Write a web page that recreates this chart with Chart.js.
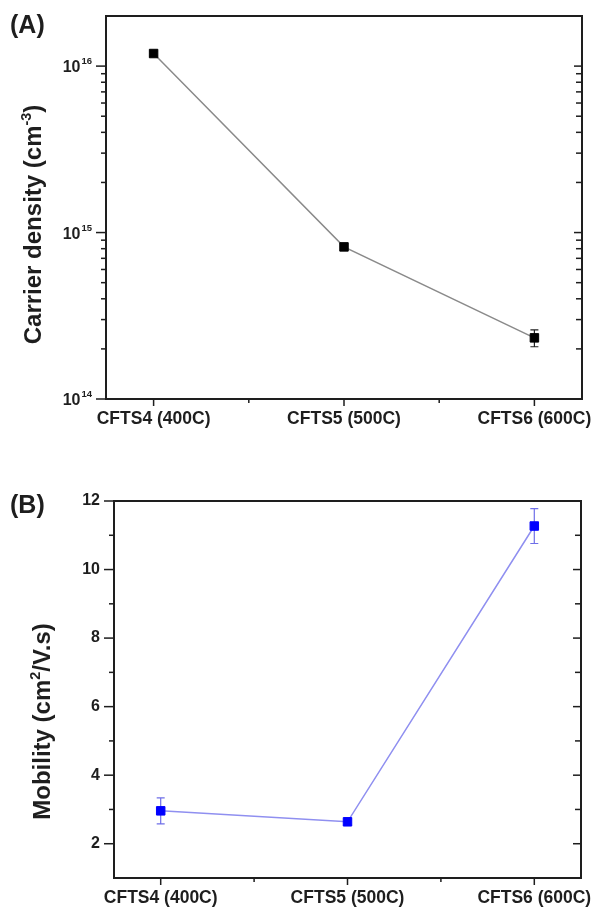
<!DOCTYPE html>
<html lang="en">
<head>
<meta charset="UTF-8">
<title>CFTS carrier density and mobility</title>
<style>
  body { margin: 0; background: #fff; }
  .panel { position: absolute; left: 0; width: 595px; }
  #panelA { top: 0; height: 440px; }
  #panelB { top: 455px; height: 455px; }
</style>
<script src="https://cdn.jsdelivr.net/npm/chart.js"></script>
</head>
<body>
<div class="panel" id="panelA"><canvas id="chartA" width="595" height="440"></canvas></div>
<div class="panel" id="panelB"><canvas id="chartB" width="595" height="455"></canvas></div>
<script>
const samples = ['CFTS4 (400C)', 'CFTS5 (500C)', 'CFTS6 (600C)'];
const carrierDensity = [1.19e16, 8.2e14, 2.33e14];
const carrierError = [0.04e16, 0.3e14, 0.27e14];
const mobility = [2.96, 2.64, 11.27];
const mobilityError = [0.38, 0.08, 0.51];
const densityTicks = [1e14, 1e15, 1e16];
const mobilityTicks = [2, 4, 6, 8, 10, 12];

const FONT = '"Liberation Sans", Arial, sans-serif';
const INK = '#1e1e1e';

// text with superscript parts, x = left edge, y = baseline
function richWidth(ctx, parts, size) {
  let w = 0;
  for (const p of parts) {
    ctx.font = `bold ${p.sup ? size * 0.6 : size}px ${FONT}`;
    w += ctx.measureText(p.t).width;
  }
  return w;
}
function drawRich(ctx, parts, x, y, size) {
  for (const p of parts) {
    const s = p.sup ? size * 0.6 : size;
    ctx.font = `bold ${s}px ${FONT}`;
    ctx.fillText(p.t, x, p.sup ? y - size * 0.42 : y);
    x += ctx.measureText(p.t).width;
  }
}

function isWholeMantissa(v) {
  const m = v / Math.pow(10, Math.floor(Math.log10(v) + 1e-9));
  return Math.abs(m - Math.round(m)) < 1e-6;
}

// frame, tick marks, error bars, axis title and panel letter
function makeFrame(cfg) {
  return {
    id: 'frame',
    beforeDatasetsDraw(chart) {
      const ctx = chart.ctx, xs = chart.scales.x, ys = chart.scales.y;
      ctx.save();
      ctx.strokeStyle = cfg.errColor;
      ctx.lineWidth = 1.2;
      ctx.beginPath();
      cfg.values.forEach((v, i) => {
        const e = cfg.errors[i];
        const px = xs.getPixelForValue(i);
        const y1 = ys.getPixelForValue(v + e), y2 = ys.getPixelForValue(v - e);
        ctx.moveTo(px, y1); ctx.lineTo(px, y2);
        ctx.moveTo(px - 4, y1); ctx.lineTo(px + 4, y1);
        ctx.moveTo(px - 4, y2); ctx.lineTo(px + 4, y2);
      });
      ctx.stroke();
      ctx.restore();
    },
    afterDraw(chart) {
      const ctx = chart.ctx, xs = chart.scales.x, ys = chart.scales.y;
      const area = chart.chartArea;
      const L = area.left, R = area.right, T = area.top, B = area.bottom;
      ctx.save();
      ctx.strokeStyle = INK;
      ctx.lineWidth = 2;
      ctx.strokeRect(L, T, R - L, B - T);

      // tick marks as thin filled bars
      ctx.fillStyle = INK;
      for (const t of xs.ticks) {
        const px = xs.getPixelForValue(t.value);
        const len = Number.isInteger(t.value) ? 7 : 4;
        ctx.fillRect(px - 0.75, B, 1.5, len);
      }
      for (const t of ys.ticks) {
        if (cfg.log && !isWholeMantissa(t.value)) continue;
        const py = ys.getPixelForValue(t.value);
        const major = cfg.majors.includes(t.value);
        const edge = py <= T + 1 || py >= B - 1;
        if (edge && !major) continue;
        const outLen = major ? 10 : 5;
        ctx.fillRect(L - outLen, py - 0.75, outLen, 1.5);
        if (!edge) {
          const inLen = major ? 8 : 6;
          ctx.fillRect(R - inLen, py - 0.75, inLen, 1.5);
        }
      }

      ctx.fillStyle = INK;
      ctx.textAlign = 'left';
      ctx.textBaseline = 'alphabetic';

      // power-of-ten labels for the log axis
      if (cfg.log) {
        for (const v of cfg.majors) {
          const py = ys.getPixelForValue(v);
          const exp = String(Math.round(Math.log10(v)));
          ctx.font = `bold 9.5px ${FONT}`;
          const ew = ctx.measureText(exp).width;
          const expLeft = L - 14 - ew;
          ctx.fillText(exp, expLeft, py - 2);
          ctx.font = `bold 16px ${FONT}`;
          ctx.textAlign = 'right';
          ctx.fillText('10', expLeft - 1, py + 6);
          ctx.textAlign = 'left';
        }
      }

      // rotated axis title
      const size = 24;
      const w = richWidth(ctx, cfg.title, size);
      ctx.save();
      ctx.translate(cfg.titleX, (T + B) / 2 + cfg.titleShift);
      ctx.rotate(-Math.PI / 2);
      drawRich(ctx, cfg.title, -w / 2, 0, size);
      ctx.restore();

      ctx.font = `bold 25px ${FONT}`;
      ctx.fillText(cfg.panel, 10, cfg.panelY);
      ctx.restore();
    }
  };
}

function xScale(height) {
  return {
    type: 'linear',
    min: -0.25,
    max: 2.25,
    afterBuildTicks: s => { s.ticks = [0, 0.5, 1, 1.5, 2].map(v => ({value: v})); },
    afterFit: s => { s.height = height; s.paddingLeft = 0; s.paddingRight = 0; },
    grid: {display: false, drawTicks: false},
    border: {display: false},
    ticks: {
      autoSkip: false,
      maxRotation: 0,
      padding: 10,
      color: INK,
      font: {family: FONT, size: 17.5, weight: 'bold'},
      callback: v => Number.isInteger(v) ? samples[v] : ''
    }
  };
}

const common = {
  responsive: false,
  animation: false,
  devicePixelRatio: 1,
  events: [],
  plugins: {legend: {display: false}, tooltip: {enabled: false}}
};

new Chart(document.getElementById('chartA'), {
  type: 'scatter',
  data: {
    datasets: [{
      data: carrierDensity.map((v, i) => ({x: i, y: v})),
      showLine: true,
      borderColor: '#8a8a8a',
      borderWidth: 1.5,
      pointStyle: 'rect',
      pointRadius: 6,
      pointBackgroundColor: '#000',
      pointBorderColor: '#000',
      pointBorderWidth: 1
    }]
  },
  options: {
    ...common,
    layout: {autoPadding: false, padding: {top: 16, right: 13, left: 0, bottom: 0}},
    scales: {
      x: xScale(41),
      y: {
        type: 'logarithmic',
        min: 1e14,
        max: 2e16,
        afterFit: s => { s.width = 106; s.paddingTop = 0; s.paddingBottom = 0; },
        grid: {display: false, drawTicks: false},
        border: {display: false},
        ticks: {display: false, autoSkip: false}
      }
    }
  },
  plugins: [makeFrame({
    values: carrierDensity, errors: carrierError, errColor: '#222',
    log: true, majors: densityTicks,
    title: [{t: 'Carrier density (cm'}, {t: '-3', sup: true}, {t: ')'}],
    titleX: 41, titleShift: 17, panel: '(A)', panelY: 33
  })]
});

new Chart(document.getElementById('chartB'), {
  type: 'scatter',
  data: {
    datasets: [{
      data: mobility.map((v, i) => ({x: i, y: v})),
      showLine: true,
      borderColor: '#8f8ff0',
      borderWidth: 1.5,
      pointStyle: 'rect',
      pointRadius: 6,
      pointBackgroundColor: '#0000ff',
      pointBorderColor: '#0000ff',
      pointBorderWidth: 1
    }]
  },
  options: {
    ...common,
    layout: {autoPadding: false, padding: {top: 46, right: 14, left: 0, bottom: 0}},
    scales: {
      x: xScale(32),
      y: {
        type: 'linear',
        min: 1,
        max: 12,
        afterFit: s => { s.width = 114; s.paddingTop = 0; s.paddingBottom = 0; },
        grid: {display: false, drawTicks: false},
        border: {display: false},
        ticks: {
          stepSize: 1,
          autoSkip: false,
          padding: 14,
          color: INK,
          font: {family: FONT, size: 16, weight: 'bold'},
          callback: v => mobilityTicks.includes(v) ? String(v) : ''
        }
      }
    }
  },
  plugins: [makeFrame({
    values: mobility, errors: mobilityError, errColor: '#6f6fe8',
    log: false, majors: mobilityTicks,
    title: [{t: 'Mobility (cm'}, {t: '2', sup: true}, {t: '/V.s)'}],
    titleX: 50, titleShift: 32, panel: '(B)', panelY: 58
  })]
});
</script>
</body>
</html>
